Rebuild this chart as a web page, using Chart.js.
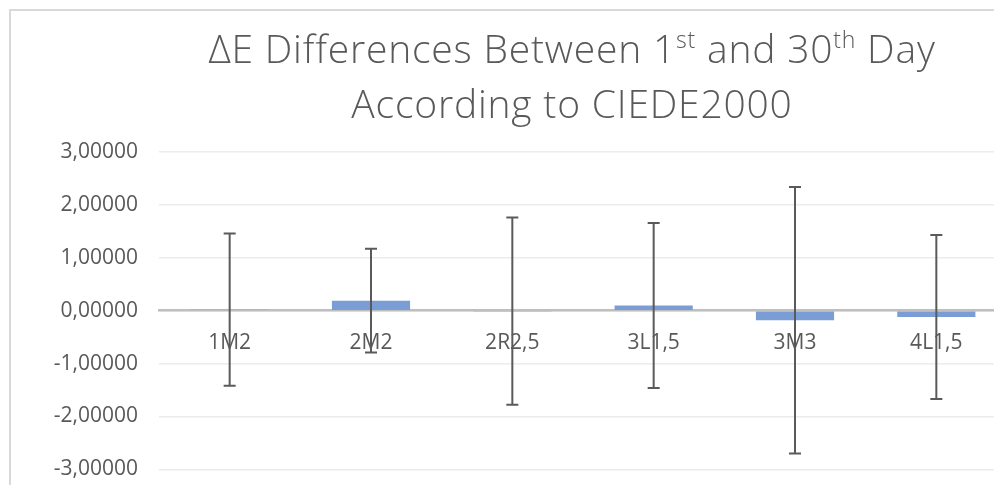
<!DOCTYPE html>
<html>
<head>
<meta charset="utf-8">
<script src="https://cdn.jsdelivr.net/npm/chart.js@4.4.0/dist/chart.umd.min.js"></script>
<style>
    html, body { margin: 0; padding: 0; background: #fff; overflow: hidden; width: 994px; height: 485px; }
    #frame { position: absolute; left: 9px; top: 9px; border-left: 2px solid #d9d9d9; border-top: 2px solid #d9d9d9; }
    #chart { display: block; }
</style>
</head>
<body>
<div id="frame"><canvas id="chart" width="1122" height="492"></canvas></div>
<script>
// chart data
var categories = ['1M2', '2M2', '2R2,5', '3L1,5', '3M3', '4L1,5'];
var deltaE = [0.02, 0.19, -0.01, 0.10, -0.18, -0.12];
var deltaErr = [1.44, 0.98, 1.77, 1.56, 2.52, 1.55];
var yTickValues = [-3, -2, -1, 0, 1, 2, 3];

// title, with superscript pieces flagged
var titleLines = [
    [{ text: 'ΔE Differences Between 1' }, { text: 'st', sup: true }, { text: ' and 30' }, { text: 'th', sup: true }, { text: ' Day' }],
    [{ text: 'According to CIEDE2000' }]
];

var textColor = '#595959';
var labelFont = { family: '"Open Sans", sans-serif', size: 21 };

var titlePlugin = {
    id: 'supTitle',
    afterDraw: function(chart) {
        var ctx = chart.ctx;
        var mainFont = '300 39px "Open Sans", sans-serif';
        var supFont = '300 23px "Open Sans", sans-serif';
        var baselines = [52, 107];
        ctx.save();
        ctx.fillStyle = textColor;
        ctx.textBaseline = 'alphabetic';
        ctx.textAlign = 'left';
        ctx.letterSpacing = '0.8px';
        titleLines.forEach(function(line, i) {
            var total = 0;
            line.forEach(function(seg) {
                ctx.font = seg.sup ? supFont : mainFont;
                seg.w = ctx.measureText(seg.text).width;
                total += seg.w;
            });
            var x = chart.width / 2 - total / 2;
            line.forEach(function(seg) {
                ctx.font = seg.sup ? supFont : mainFont;
                ctx.fillText(seg.text, x, baselines[i] - (seg.sup ? 15 : 0));
                x += seg.w;
            });
        });
        ctx.restore();
    }
};

var errorBarPlugin = {
    id: 'errorBars',
    afterDatasetsDraw: function(chart) {
        var ctx = chart.ctx;
        var yScale = chart.scales.y;
        var meta = chart.getDatasetMeta(0);
        ctx.save();
        ctx.strokeStyle = '#5a5a5a';
        ctx.lineWidth = 2;
        meta.data.forEach(function(bar, i) {
            var top = yScale.getPixelForValue(deltaE[i] + deltaErr[i]);
            var bottom = yScale.getPixelForValue(deltaE[i] - deltaErr[i]);
            ctx.beginPath();
            ctx.moveTo(bar.x, top);
            ctx.lineTo(bar.x, bottom);
            ctx.moveTo(bar.x - 6, top);
            ctx.lineTo(bar.x + 6, top);
            ctx.moveTo(bar.x - 6, bottom);
            ctx.lineTo(bar.x + 6, bottom);
            ctx.stroke();
        });
        ctx.restore();
    }
};

var canvas = document.getElementById('chart');

new Chart(canvas, {
    type: 'bar',
    data: {
        labels: categories,
        datasets: [{
            label: 'ΔE',
            data: deltaE,
            backgroundColor: 'rgb(122, 157, 214)',
            borderWidth: 0,
            categoryPercentage: 1,
            barPercentage: 0.553
        }]
    },
    options: {
        responsive: false,
        animation: false,
        layout: {
            padding: { top: 141, bottom: 12, left: 0, right: 126 }
        },
        plugins: {
            legend: { display: false },
            tooltip: { enabled: false },
            title: { display: false }
        },
        scales: {
            x: {
                position: { y: 0 },
                grid: { drawOnChartArea: false, drawTicks: false },
                border: { display: true, color: '#bfbfbf', width: 2.5 },
                ticks: { color: textColor, font: labelFont, padding: 20, maxRotation: 0 }
            },
            y: {
                min: -3,
                max: 3,
                afterFit: function(scale) {
                    scale.width = 148;
                },
                afterBuildTicks: function(scale) {
                    scale.ticks = yTickValues.map(function(v) { return { value: v }; });
                },
                grid: { color: '#ececec', lineWidth: 1.5, drawTicks: false },
                border: { display: false },
                ticks: {
                    color: textColor,
                    font: labelFont,
                    padding: 21,
                    callback: function(value) {
                        return value.toFixed(5).replace('.', ',');
                    }
                }
            }
        }
    },
    plugins: [titlePlugin, errorBarPlugin]
});
</script>
</body>
</html>
